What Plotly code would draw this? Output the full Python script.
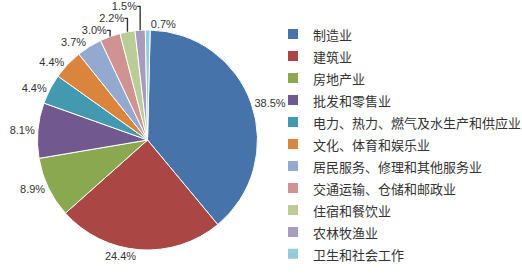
import plotly.graph_objects as go

categories = ["制造业", "建筑业", "房地产业", "批发和零售业", "电力、热力、燃气及水生产和供应业",
              "文化、体育和娱乐业", "居民服务、修理和其他服务业", "交通运输、仓储和邮政业",
              "住宿和餐饮业", "农林牧渔业", "卫生和社会工作"]
values = [38.5, 24.4, 8.9, 8.1, 4.4, 4.4, 3.7, 3.0, 2.2, 1.5, 0.7]
colors = ["#4674AA", "#AA4744", "#8AA84F", "#71598F", "#4299B0", "#DB843D",
          "#93A9D0", "#D09392", "#BACD96", "#A89BBD", "#92CCDD"]

legend_labels = ["<span style='font-size:13px'>" + c + "</span>" for c in categories]

fig = go.Figure(go.Pie(
    labels=legend_labels,
    values=values,
    sort=False,
    direction="clockwise",
    rotation=1.4,
    marker=dict(colors=colors, line=dict(color="white", width=1)),
    texttemplate="%{value:.1f}%",
    textposition="outside",
    textfont=dict(size=11, color="#333333", family="Liberation Sans, Arial, sans-serif"),
    hovertemplate="%{customdata}: %{value}%<extra></extra>",
    customdata=categories,
    domain=dict(x=[37 / 522, 258 / 522], y=[1 - 250 / 278, 1 - 30 / 278]),
    automargin=False,
))

fig.update_layout(
    width=522, height=278,
    margin=dict(l=0, r=0, t=0, b=0, autoexpand=False),
    paper_bgcolor="white",
    font=dict(family="Noto Sans CJK SC, sans-serif", color="#333333"),
    showlegend=True,
    legend=dict(x=273 / 522, y=0.935, xanchor="left", yanchor="top",
                bgcolor="rgba(0,0,0,0)",
                font=dict(size=14.6), itemsizing="constant",
                tracegroupgap=0, itemwidth=30),
)

fig.write_html("out.html")
